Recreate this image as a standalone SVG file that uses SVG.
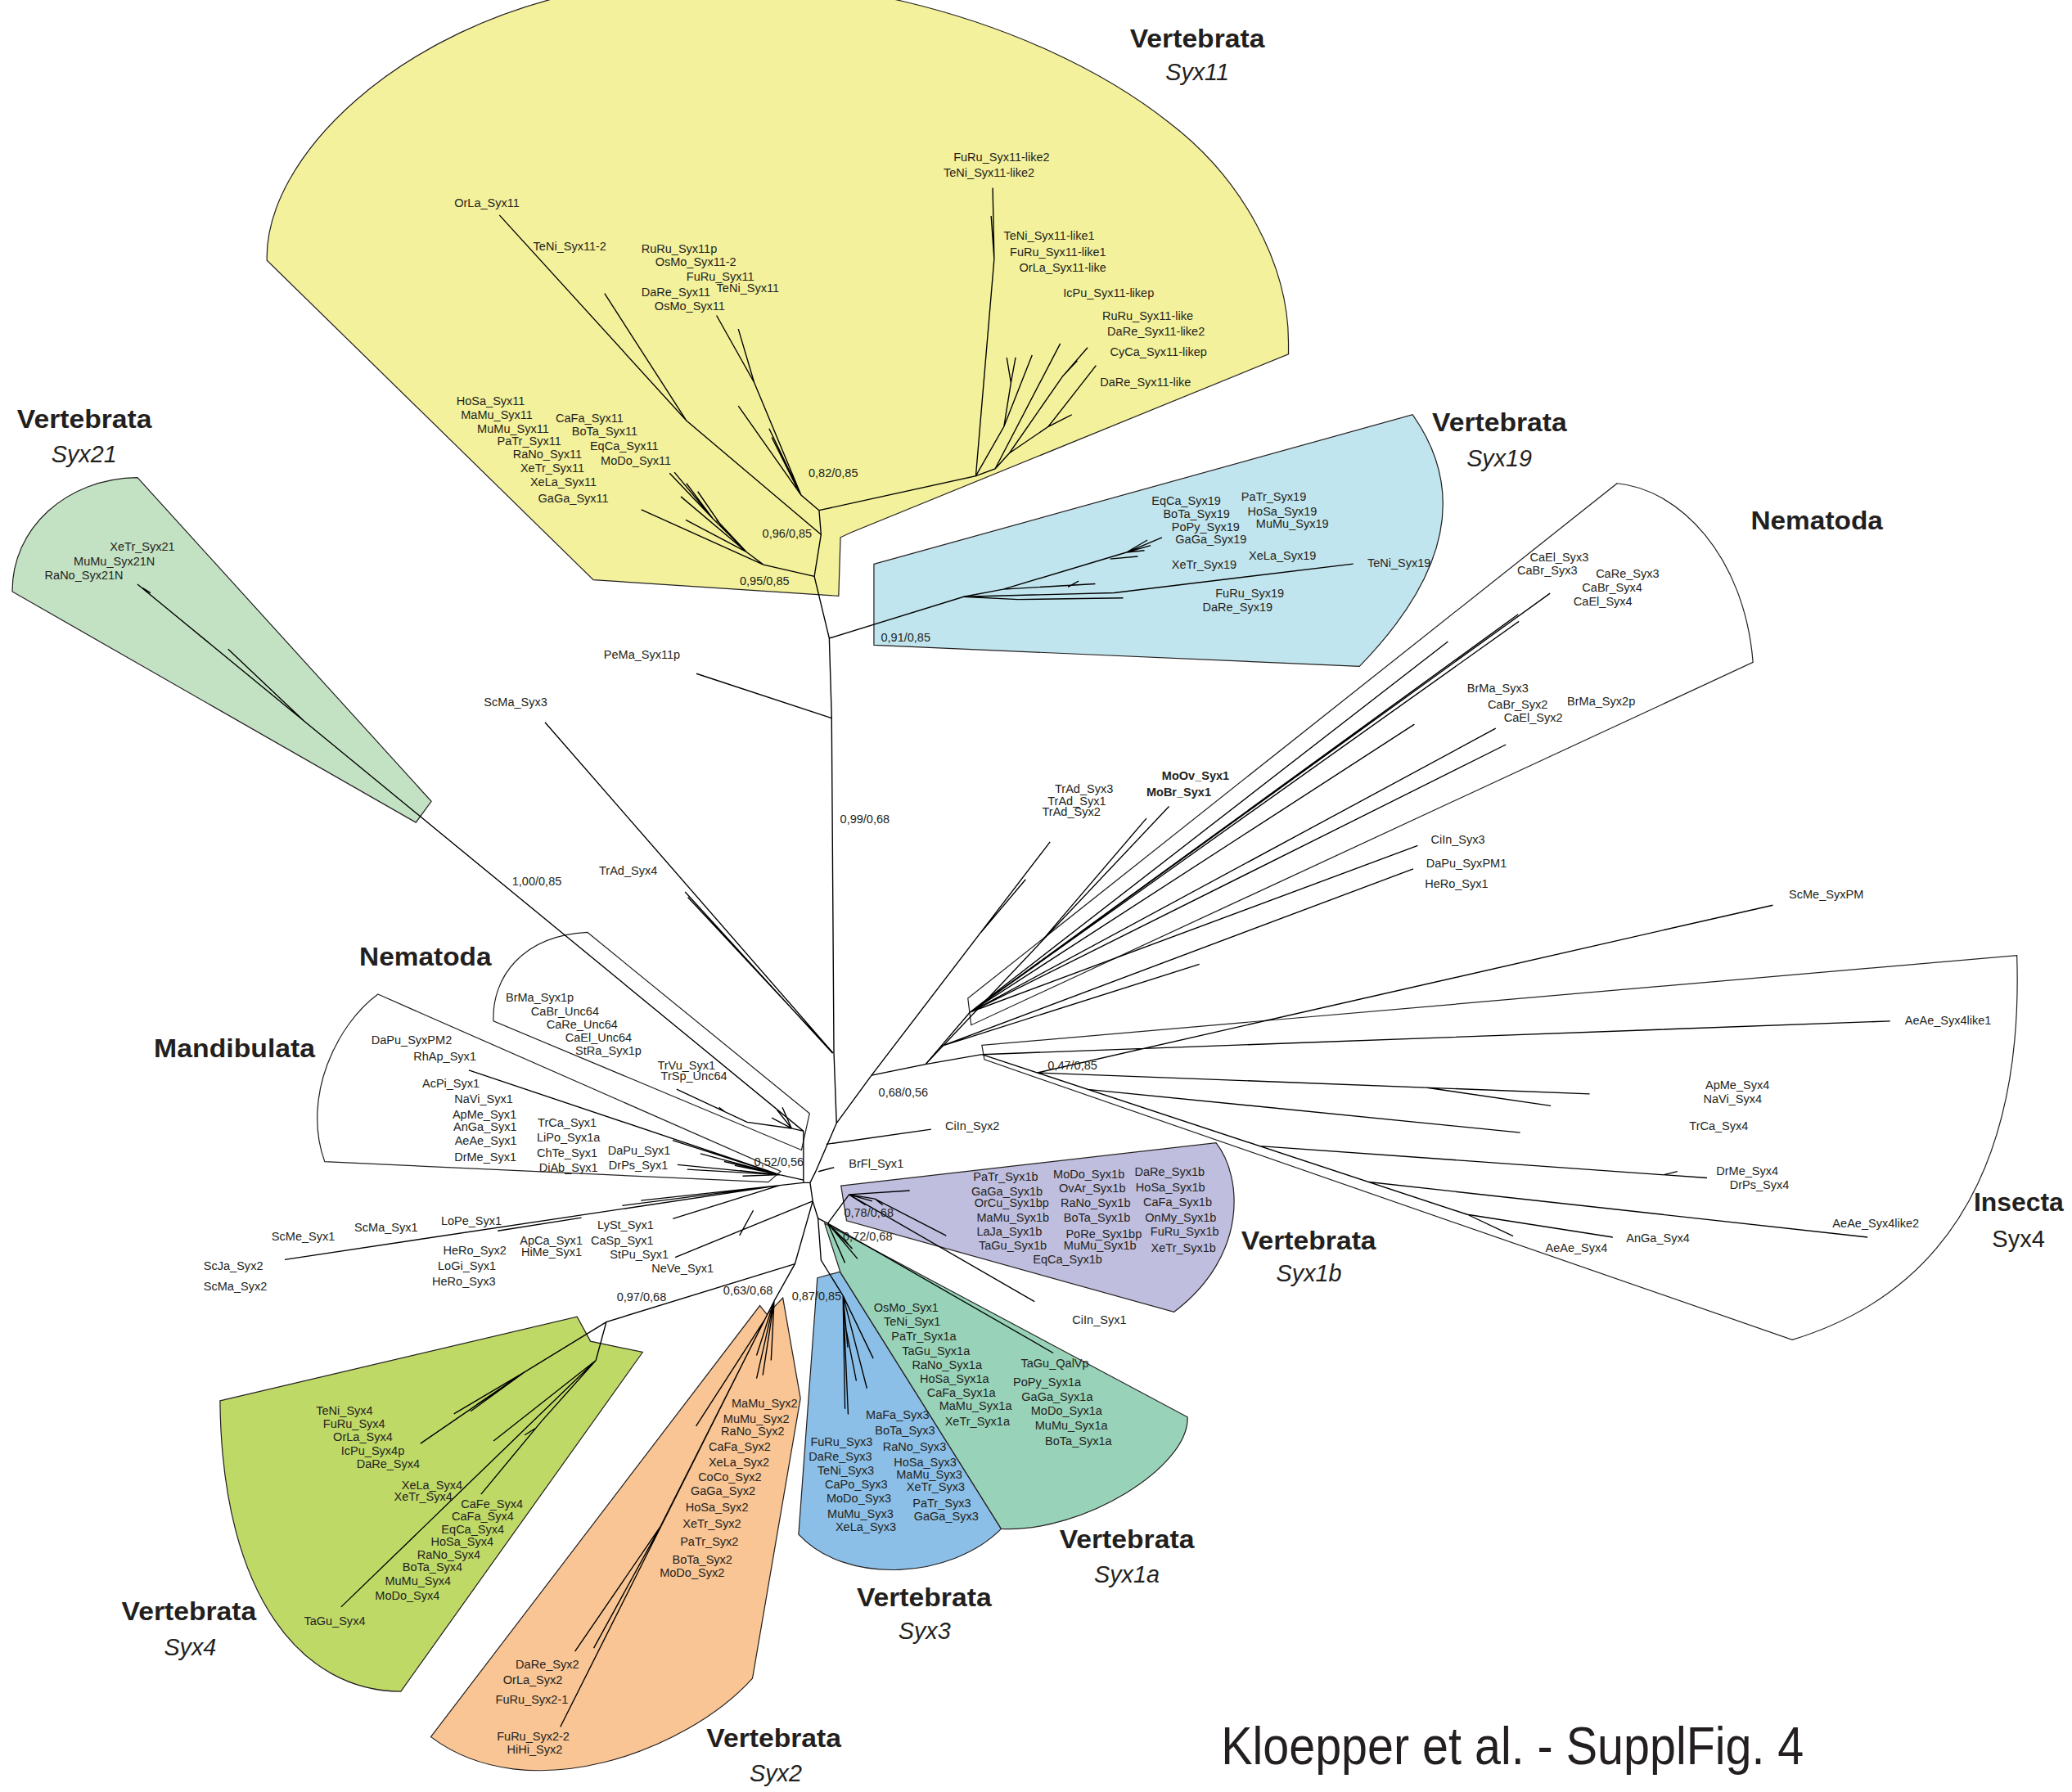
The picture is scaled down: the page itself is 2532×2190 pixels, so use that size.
<svg xmlns="http://www.w3.org/2000/svg" width="2532" height="2190" viewBox="0 0 2532 2190">
<style>
.lb{font-family:"Liberation Sans",Arial,sans-serif;font-size:9px;fill:#231f20}
.bd{font-weight:bold}
.tt{font-family:"Liberation Sans",Arial,sans-serif;font-size:19px;font-weight:bold;fill:#231f20;text-anchor:middle}
.it{font-family:"Liberation Sans",Arial,sans-serif;font-size:17.8px;font-style:italic;fill:#231f20;text-anchor:middle}
.rg{stroke:#231f20;stroke-width:0.75;stroke-linejoin:miter}
.br path{fill:none;stroke:#000;stroke-width:0.85}
</style>
<rect width="2532" height="2190" fill="#fff"/>
<g transform="scale(1.6149)">

<!-- clade areas -->
<g id="clade-syx11">
<path class="rg" fill="#f3f19b" d="M202,197 C200,120 300,20 450,-8 C600,-35 780,10 885,93 C940,135 975,200 975,259 L975,268 L644,403 L636,406.7 L634.6,451 L449,438.8 Z"/>
<text class="tt" x="906" y="36" textLength="102" lengthAdjust="spacingAndGlyphs">Vertebrata</text>
<text class="it" x="906" y="61">Syx11</text>
</g>
<g id="clade-syx19">
<path class="rg" fill="#c1e5ee" d="M661.3,426.9 L1068.9,313.8 Q1130,400.2 1028.7,504.3 L661.3,488.2 Z"/>
<text class="tt" x="1134.7" y="326.6" textLength="102" lengthAdjust="spacingAndGlyphs">Vertebrata</text>
<text class="it" x="1134.5" y="353">Syx19</text>
</g>
<g id="clade-syx21">
<path class="rg" fill="#c3e2c3" d="M9.3,447.7 C9,400 50,362 104,361.4 L326.4,606.4 L314.7,622.4 Z"/>
<text class="tt" x="63.9" y="323.8" textLength="102" lengthAdjust="spacingAndGlyphs">Vertebrata</text>
<text class="it" x="63.6" y="349.9">Syx21</text>
</g>
<g id="clade-nematoda-right">
<path class="rg" fill="none" d="M732.4,755.5 L1223.7,365.8 C1270,370 1320,420 1326.5,501.2 L734.9,775.7 Z"/>
<text class="tt" x="1374.8" y="400.5" textLength="100" lengthAdjust="spacingAndGlyphs">Nematoda</text>
</g>
<g id="clade-insecta">
<path class="rg" fill="none" d="M743,791 L1526.2,723 C1530,840 1500,970 1356.2,1013.9 L744.9,801.8 Z"/>
<text class="tt" x="1527.6" y="916.6" textLength="68" lengthAdjust="spacingAndGlyphs">Insecta</text>
<text class="tt" style="font-weight:normal;font-size:18px" x="1527.4" y="943.6">Syx4</text>
</g>
<g id="clade-nematoda-left">
<path class="rg" fill="none" d="M444.4,705.5 L612.6,842.6 L606.5,870.3 L373.4,772.7 C372,740 395,708 444.4,705.5 Z"/>
<text class="tt" x="321.9" y="731" textLength="100" lengthAdjust="spacingAndGlyphs">Nematoda</text>
</g>
<g id="clade-mandibulata">
<path class="rg" fill="none" d="M286,752.4 L590.8,886.4 L581.4,894.6 L245.7,879.1 C228,830 255,775 286,752.4 Z"/>
<text class="tt" x="177.5" y="800.2" textLength="122" lengthAdjust="spacingAndGlyphs">Mandibulata</text>
</g>
<g id="clade-syx1b">
<path class="rg" fill="#bfbedf" d="M636.4,897.3 L920.2,864.9 C940,890 945,950 888.3,992.9 L640.6,923.8 Z"/>
<text class="tt" x="990.3" y="945.8" textLength="102" lengthAdjust="spacingAndGlyphs">Vertebrata</text>
<text class="it" x="990.5" y="970">Syx1b</text>
</g>
<g id="clade-syx3">
<path class="rg" fill="#8bbfe7" d="M618.5,967.1 L635.6,962.4 L757.6,1157 C720,1195 640,1200 604.3,1161.1 Z"/>
<text class="tt" x="699.3" y="1215.4" textLength="102" lengthAdjust="spacingAndGlyphs">Vertebrata</text>
<text class="it" x="699.6" y="1240.6">Syx3</text>
</g>
<g id="clade-syx1a">
<path class="rg" fill="#98d3b9" d="M624,925.8 L898.6,1072.4 C900,1110 820,1160 757.6,1157 L636,963 Z"/>
<text class="tt" x="852.7" y="1171.9" textLength="102" lengthAdjust="spacingAndGlyphs">Vertebrata</text>
<text class="it" x="852.7" y="1197.3">Syx1a</text>
</g>
<g id="clade-syx2">
<path class="rg" fill="#f9c594" d="M575,988 L580.4,994.7 L592.4,982.2 L605.7,1058.2 L569.4,1270.1 C520,1325 400,1370 326,1314.4 Z"/>
<text class="tt" x="585.6" y="1322.3" textLength="102" lengthAdjust="spacingAndGlyphs">Vertebrata</text>
<text class="it" x="587" y="1348">Syx2</text>
</g>
<g id="clade-syx4">
<path class="rg" fill="#bfd967" d="M166.5,1060.1 L436.7,996.4 L446.8,1015 L486.3,1023.3 L303.3,1280 C230,1280 168,1210 166.5,1060.1 Z"/>
<text class="tt" x="143" y="1226" textLength="102" lengthAdjust="spacingAndGlyphs">Vertebrata</text>
<text class="it" x="143.9" y="1252.6">Syx4</text>
</g>

<!-- branches -->
<g id="connectors" class="br">
<!-- trunk -->
<path d="M627.5,483 L616.2,436.2 L621.3,404.5 L619.8,386.2"/>
<path d="M627.5,483 L629.3,542.3 L631,796 L633,850 L617,887 L613,895 L615,909 L619,922 L621.3,953.7 L637.9,980.5"/>
<!-- Syx11 vertebrate -->
<path d="M616.2,436.2 L577.7,427.3 L565,417.8 L539.4,392.4 L506.7,358.1 M539.4,392.4 L510.3,357.4 M539.4,392.4 L519.4,365.8 M565,417.8 L515.2,375.8 M565,417.8 L518.9,393.5 M565,417.8 L542.2,393.5 M577.7,427.3 L485.3,385.7 M548,401 L528,372"/>
<path d="M621.3,404.5 L519.4,318.3 L377.9,162.8 M519.4,318.3 L457.5,222.1"/>
<path d="M619.8,386.2 L606.2,374.7 L570.7,289.5 L542.2,238.7 M570.7,289.5 L558.7,249 M606.2,374.7 L558.7,307.2 M606.2,374.7 L582,324.3 M603,369 L584,331"/>
<!-- Syx11-like -->
<path d="M619.8,386.2 L644,380.9 L738.4,360.2 L752.3,196 L751.2,142.2 M752.3,196 L750,163.5"/>
<path d="M738.4,360.2 L759.7,322.8 L765,289.6 L761.8,270.6 M765,289.6 L768.5,270.6 M759.7,322.8 L781,268.8"/>
<path d="M738.4,360.2 L753,354.8 L802.3,260 M753,354.8 L763.8,342.9 L804,284.9 L823,263 M804,284.9 L815.2,273 M763.8,342.9 L793.3,322.8 L829.4,276.6 M793.3,322.8 L811.1,313.8"/>
<!-- Syx19 -->
<path d="M627.5,483 L729.3,451.6 L759.2,445.9 L828.8,441.8 M808.2,444.2 L816.2,439.7 M759.2,445.9 L852.4,418 L879.3,406.7 M852.4,418 L868.2,408.7 M852.4,418 L870.7,412.8 M852.4,418 L866,416.6 M840,423 L861,421.1"/>
<path d="M729.3,451.6 L770.3,453.7 L849.9,452.5 M729.3,451.6 L843,448.6 L1024,426.7"/>
<!-- single long branches -->
<path d="M629.3,543.5 L527,509.8"/>
<path d="M412.4,546.6 L630.5,797 M518.4,675 L630,797 M520.5,679 L625,791"/>
<!-- Syx21 -->
<path d="M608,856 L104,442.1 M230,545.6 L172.6,491.2 M113.9,448.7 L108,445"/>
<!-- left side -->
<path d="M608,856 L608,895 L613,895"/>
<path d="M608,856 L599,853.9 L588,840 M599,853.9 L592,838 M599,853.9 L584,846 M599,853.9 L565.3,849.2 L512,824.3 M548,841 L544,838"/>
<path d="M608,893 L590,889 L551.2,875.8 L354.8,809.9 M590,889 L509,863 M590,889 L530,873 M590,889 L548,879 M590,889 L556,882 M590,889 L560,886 M590,889 L512.6,881.4 M590,889 L520,885 M590,889 L562,890"/>
<path d="M608,895 L590,897 L215.5,953.2 M590,897 L470.9,912.3 M590,897 L485,908.5 M376.6,931.5 L440,921.5 M590,897 L509.2,922.3 M615,909 L510.9,951.5 M570,916 L559.6,935"/>
<!-- centre right -->
<path d="M625.2,865.9 L704.6,854.6 M619.3,886.6 L631.1,883.5"/>
<path d="M633,850 L659.5,813.7 L700.4,805.4 L734,766"/>
<path d="M659.5,813.7 L794.6,637.1 M742,706 L776.1,665.5"/>
<path d="M700.4,805.4 L884.6,610.3 M790,710 L867.5,619.3"/>
<path d="M734,766 L1172.9,449 M734,766 L1148.8,464.9 M734,766 L1149.4,470.2 M734,766 L1095.7,485.5 M734,766 L1070.3,548.1 M734,766 L1131.8,551.2 M734,766 L1139.5,563.5 M734,766 L1072.8,639.9"/>
<path d="M712,791.8 L1069.4,657.5 M712,791.8 L907.6,729.7"/>
<!-- Insecta -->
<path d="M700.4,805.4 L743,798 L1110.4,919.1 M743,798 L1430.3,772.7 M785,811.8 L1341.5,685 M785,811.8 L1202.9,827.8 M1079.8,823.1 L1173.5,836.8 M823,824.4 L1150.3,857.1 M953.4,867.3 L1291.7,891.4 M1259.2,889 L1269.3,886.5 M1035.7,894.5 L1413.2,936.3 M1110.4,919.1 L1220.4,936.3 M1110.4,919.1 L1145,935.5"/>
<!-- Syx1b / Syx1a -->
<path d="M619,922 L626.4,925.8 L642.5,904 L688.4,901 M642.5,904 L662,907.2 L716,935.1 M642.5,904 L782.8,985 M642.5,904 L655,912 M642.5,904 L660,909 M662,907.2 L668,912"/>
<path d="M626.4,925.8 L797,1023.9 M626.4,925.8 L648.9,952.6 M626.4,925.8 L639.4,955.7 M626.4,925.8 L641.8,941.3 M626.4,925.8 L645,945"/>
<!-- Syx3 -->
<path d="M637.9,980.5 L660.8,1028 M637.9,980.5 L656,1050.7 M637.9,980.5 L639.4,1066.2 M637.9,980.5 L641.8,1070.3 M637.9,980.5 L641.5,1019.7 M640,1005 L648,1045"/>
<!-- Syx2 -->
<path d="M615,909 L601.5,956.5 L585.8,984.6 L583.5,1029.5 M585.8,984.6 L572.5,1043.2 M585.8,984.6 L577.2,1040.7 M585.8,984.6 L572.5,1025.8 M585.8,984.6 L578.8,998.4 L526.7,1079.3 M578.8,998.4 L499.8,1155.1 L435.1,1249.7 M499.8,1155.1 L449.3,1247.2 M578.8,998.4 L424,1306.9"/>
<!-- Syx4 -->
<path d="M601.5,956.5 L458.8,1000.4 L450.9,1029.5 M458.8,1000.4 L397.1,1038.2 L343.5,1070 M397.1,1038.2 L356.1,1068 M397.1,1038.2 L360.8,1063 M397.1,1038.2 L318.2,1092.4 M450.9,1029.5 L373.5,1090.5 M450.9,1029.5 L258.1,1216.1 M450.9,1029.5 L409.8,1075.5 L364,1130.8 M405,1081 L397,1086"/>
</g>

<!-- leaf names -->
<g id="labels-syx11">
<text class="lb" x="343.8" y="156.8">OrLa_Syx11</text>
<text class="lb" x="403.5" y="189.3">TeNi_Syx11-2</text>
<text class="lb" x="485.3" y="191.5">RuRu_Syx11p</text>
<text class="lb" x="495.8" y="201">OsMo_Syx11-2</text>
<text class="lb" x="519.4" y="212.1">FuRu_Syx11</text>
<text class="lb" x="542.2" y="221">TeNi_Syx11</text>
<text class="lb" x="485.3" y="224.3">DaRe_Syx11</text>
<text class="lb" x="495.3" y="234.6">OsMo_Syx11</text>
<text class="lb" x="345.4" y="306.6">HoSa_Syx11</text>
<text class="lb" x="348.8" y="317.2">MaMu_Syx11</text>
<text class="lb" x="361.1" y="327.8">MuMu_Syx11</text>
<text class="lb" x="376.2" y="337">PaTr_Syx11</text>
<text class="lb" x="388.1" y="347">RaNo_Syx11</text>
<text class="lb" x="393.8" y="357">XeTr_Syx11</text>
<text class="lb" x="401.2" y="368">XeLa_Syx11</text>
<text class="lb" x="407.2" y="380.2">GaGa_Syx11</text>
<text class="lb" x="420.5" y="319.4">CaFa_Syx11</text>
<text class="lb" x="432.7" y="329.3">BoTa_Syx11</text>
<text class="lb" x="446.4" y="340.4">EqCa_Syx11</text>
<text class="lb" x="454.6" y="351.5">MoDo_Syx11</text>
<text class="lb" x="721.5" y="121.8">FuRu_Syx11-like2</text>
<text class="lb" x="714" y="133.6">TeNi_Syx11-like2</text>
<text class="lb" x="759.5" y="181.5">TeNi_Syx11-like1</text>
<text class="lb" x="764.2" y="193.6">FuRu_Syx11-like1</text>
<text class="lb" x="771.3" y="205.7">OrLa_Syx11-like</text>
<text class="lb" x="804.5" y="224.9">IcPu_Syx11-likep</text>
<text class="lb" x="834.1" y="242.2">RuRu_Syx11-like</text>
<text class="lb" x="837.9" y="254">DaRe_Syx11-like2</text>
<text class="lb" x="840" y="269.4">CyCa_Syx11-likep</text>
<text class="lb" x="832.4" y="292">DaRe_Syx11-like</text>
<text class="lb" x="611.8" y="361">0,82/0,85</text>
<text class="lb" x="576.9" y="406.7">0,96/0,85</text>
<text class="lb" x="559.8" y="442.5">0,95/0,85</text>
</g>
<g id="labels-syx19">
<text class="lb" x="871.4" y="382.3">EqCa_Syx19</text>
<text class="lb" x="880.2" y="391.8">BoTa_Syx19</text>
<text class="lb" x="886.6" y="402.1">PoPy_Syx19</text>
<text class="lb" x="889.4" y="411.2">GaGa_Syx19</text>
<text class="lb" x="939.3" y="379.2">PaTr_Syx19</text>
<text class="lb" x="944.1" y="390.1">HoSa_Syx19</text>
<text class="lb" x="950.4" y="399.4">MuMu_Syx19</text>
<text class="lb" x="945" y="423.6">XeLa_Syx19</text>
<text class="lb" x="886.6" y="430.4">XeTr_Syx19</text>
<text class="lb" x="1034.7" y="429">TeNi_Syx19</text>
<text class="lb" x="919.7" y="452.1">FuRu_Syx19</text>
<text class="lb" x="910" y="462.4">DaRe_Syx19</text>
<text class="lb" x="666.6" y="485.5">0,91/0,85</text>
</g>
<g id="labels-syx21">
<text class="lb" x="83.2" y="416.7">XeTr_Syx21</text>
<text class="lb" x="55.8" y="428.2">MuMu_Syx21N</text>
<text class="lb" x="33.8" y="438.4">RaNo_Syx21N</text>
<text class="lb" x="387.5" y="670.2">1,00/0,85</text>
</g>
<g id="labels-centre">
<text class="lb" x="456.9" y="498.5">PeMa_Syx11p</text>
<text class="lb" x="366.2" y="534.7">ScMa_Syx3</text>
<text class="lb" x="453.3" y="661.9">TrAd_Syx4</text>
<text class="lb" x="635.7" y="622.9">0,99/0,68</text>
<text class="lb" x="798.2" y="600.3">TrAd_Syx3</text>
<text class="lb" x="792.8" y="609.4">TrAd_Syx1</text>
<text class="lb" x="788.6" y="617.4">TrAd_Syx2</text>
<text class="lb bd" x="879.2" y="590.2">MoOv_Syx1</text>
<text class="lb bd" x="867.5" y="602.7">MoBr_Syx1</text>
<text class="lb" x="664.8" y="829.5">0,68/0,56</text>
<text class="lb" x="792.8" y="809.4">0,47/0,85</text>
<text class="lb" x="715.3" y="855.2">CiIn_Syx2</text>
<text class="lb" x="642.3" y="883.5">BrFl_Syx1</text>
<text class="lb" x="811.4" y="1002.2">CiIn_Syx1</text>
<text class="lb" x="570.7" y="882.5">0,52/0,56</text>
<text class="lb" x="466.7" y="984.6">0,97/0,68</text>
<text class="lb" x="547.3" y="979.7">0,63/0,68</text>
<text class="lb" x="599.2" y="983.8">0,87/0,85</text>
<text class="lb" x="638.7" y="921.1">0,78/0,68</text>
<text class="lb" x="637.8" y="938.6">0,72/0,68</text>
</g>
<g id="labels-nematoda-right">
<text class="lb" x="1157.6" y="424.8">CaEl_Syx3</text>
<text class="lb" x="1148.1" y="434.9">CaBr_Syx3</text>
<text class="lb" x="1207.6" y="437.2">CaRe_Syx3</text>
<text class="lb" x="1197.2" y="447.5">CaBr_Syx4</text>
<text class="lb" x="1190.7" y="458.3">CaEl_Syx4</text>
<text class="lb" x="1110.2" y="523.9">BrMa_Syx3</text>
<text class="lb" x="1125.7" y="536.3">CaBr_Syx2</text>
<text class="lb" x="1138" y="546">CaEl_Syx2</text>
<text class="lb" x="1185.9" y="533.6">BrMa_Syx2p</text>
<text class="lb" x="1082.7" y="638.3">CiIn_Syx3</text>
<text class="lb" x="1079.2" y="656.4">DaPu_SyxPM1</text>
<text class="lb" x="1078.2" y="671.9">HeRo_Syx1</text>
<text class="lb" x="1353.7" y="680.1">ScMe_SyxPM</text>
</g>
<g id="labels-insecta">
<text class="lb" x="1441.4" y="775.1">AeAe_Syx4like1</text>
<text class="lb" x="1290.5" y="824.1">ApMe_Syx4</text>
<text class="lb" x="1288.9" y="834.6">NaVi_Syx4</text>
<text class="lb" x="1278.3" y="855.2">TrCa_Syx4</text>
<text class="lb" x="1298.7" y="889">DrMe_Syx4</text>
<text class="lb" x="1308.9" y="899.5">DrPs_Syx4</text>
<text class="lb" x="1386.7" y="928.9">AeAe_Syx4like2</text>
<text class="lb" x="1230.6" y="939.9">AnGa_Syx4</text>
<text class="lb" x="1169.4" y="947.2">AeAe_Syx4</text>
</g>
<g id="labels-left">
<text class="lb" x="382.7" y="757.9">BrMa_Syx1p</text>
<text class="lb" x="401.8" y="768.6">CaBr_Unc64</text>
<text class="lb" x="413.5" y="778.5">CaRe_Unc64</text>
<text class="lb" x="427.7" y="788">CaEl_Unc64</text>
<text class="lb" x="435.4" y="798.4">StRa_Syx1p</text>
<text class="lb" x="497.5" y="809.5">TrVu_Syx1</text>
<text class="lb" x="500.1" y="817.2">TrSp_Unc64</text>
<text class="lb" x="281" y="790">DaPu_SyxPM2</text>
<text class="lb" x="312.9" y="802.4">RhAp_Syx1</text>
<text class="lb" x="319.5" y="822.8">AcPi_Syx1</text>
<text class="lb" x="343.8" y="834.5">NaVi_Syx1</text>
<text class="lb" x="342.4" y="846.2">ApMe_Syx1</text>
<text class="lb" x="343.1" y="855.9">AnGa_Syx1</text>
<text class="lb" x="344.1" y="866.5">AeAe_Syx1</text>
<text class="lb" x="343.8" y="878.7">DrMe_Syx1</text>
<text class="lb" x="406.9" y="852.6">TrCa_Syx1</text>
<text class="lb" x="406.2" y="863.6">LiPo_Syx1a</text>
<text class="lb" x="406.2" y="875.8">ChTe_Syx1</text>
<text class="lb" x="407.9" y="886.9">DiAb_Syx1</text>
<text class="lb" x="459.9" y="873.6">DaPu_Syx1</text>
<text class="lb" x="460.6" y="885.1">DrPs_Syx1</text>
<text class="lb" x="205.5" y="938.9">ScMe_Syx1</text>
<text class="lb" x="268.2" y="932.2">ScMa_Syx1</text>
<text class="lb" x="333.7" y="927.1">LoPe_Syx1</text>
<text class="lb" x="154.1" y="961">ScJa_Syx2</text>
<text class="lb" x="154.1" y="976.5">ScMa_Syx2</text>
<text class="lb" x="335.3" y="949.3">HeRo_Syx2</text>
<text class="lb" x="331.3" y="961">LoGi_Syx1</text>
<text class="lb" x="327" y="972.7">HeRo_Syx3</text>
<text class="lb" x="393.4" y="941.8">ApCa_Syx1</text>
<text class="lb" x="394.4" y="950.6">HiMe_Syx1</text>
<text class="lb" x="452.1" y="930">LySt_Syx1</text>
<text class="lb" x="447.1" y="941.8">CaSp_Syx1</text>
<text class="lb" x="461.5" y="952.4">StPu_Syx1</text>
<text class="lb" x="493.1" y="963.2">NeVe_Syx1</text>
</g>
<g id="labels-syx1b">
<text class="lb" x="736.4" y="893.4">PaTr_Syx1b</text>
<text class="lb" x="735" y="904.5">GaGa_Syx1b</text>
<text class="lb" x="737.3" y="913.4">OrCu_Syx1bp</text>
<text class="lb" x="739" y="924.8">MaMu_Syx1b</text>
<text class="lb" x="739" y="935.1">LaJa_Syx1b</text>
<text class="lb" x="740.6" y="945.8">TaGu_Syx1b</text>
<text class="lb" x="781.6" y="956.2">EqCa_Syx1b</text>
<text class="lb" x="797" y="891.8">MoDo_Syx1b</text>
<text class="lb" x="801.3" y="902.5">OvAr_Syx1b</text>
<text class="lb" x="802.5" y="913.4">RaNo_Syx1b</text>
<text class="lb" x="804.9" y="924.8">BoTa_Syx1b</text>
<text class="lb" x="806.5" y="936.8">PoRe_Syx1bp</text>
<text class="lb" x="804.9" y="945.8">MuMu_Syx1b</text>
<text class="lb" x="858.6" y="889.7">DaRe_Syx1b</text>
<text class="lb" x="859.4" y="901.7">HoSa_Syx1b</text>
<text class="lb" x="865.1" y="912.8">CaFa_Syx1b</text>
<text class="lb" x="866.5" y="924.8">OnMy_Syx1b</text>
<text class="lb" x="870.5" y="935.1">FuRu_Syx1b</text>
<text class="lb" x="871" y="947.5">XeTr_Syx1b</text>
</g>
<g id="labels-syx1a">
<text class="lb" x="661.2" y="992.9">OsMo_Syx1</text>
<text class="lb" x="668.8" y="1003.2">TeNi_Syx1</text>
<text class="lb" x="674.5" y="1014.2">PaTr_Syx1a</text>
<text class="lb" x="682.5" y="1025.3">TaGu_Syx1a</text>
<text class="lb" x="690.1" y="1035.8">RaNo_Syx1a</text>
<text class="lb" x="696" y="1046.6">HoSa_Syx1a</text>
<text class="lb" x="701.4" y="1056.9">CaFa_Syx1a</text>
<text class="lb" x="710.7" y="1066.8">MaMu_Syx1a</text>
<text class="lb" x="715" y="1078.6">XeTr_Syx1a</text>
<text class="lb" x="772.5" y="1034.6">TaGu_QalVp</text>
<text class="lb" x="766.6" y="1049.1">PoPy_Syx1a</text>
<text class="lb" x="773" y="1060">GaGa_Syx1a</text>
<text class="lb" x="780.1" y="1070.7">MoDo_Syx1a</text>
<text class="lb" x="783.2" y="1081.7">MuMu_Syx1a</text>
<text class="lb" x="790.8" y="1093.6">BoTa_Syx1a</text>
</g>
<g id="labels-syx3">
<text class="lb" x="655.2" y="1073.8">MaFa_Syx3</text>
<text class="lb" x="662.1" y="1085.8">BoTa_Syx3</text>
<text class="lb" x="613.3" y="1094.1">FuRu_Syx3</text>
<text class="lb" x="611.9" y="1105.4">DaRe_Syx3</text>
<text class="lb" x="618.5" y="1115.7">TeNi_Syx3</text>
<text class="lb" x="624.2" y="1126.7">CaPo_Syx3</text>
<text class="lb" x="625.4" y="1137">MoDo_Syx3</text>
<text class="lb" x="626.1" y="1148.8">MuMu_Syx3</text>
<text class="lb" x="632.2" y="1158.5">XeLa_Syx3</text>
<text class="lb" x="668" y="1098.2">RaNo_Syx3</text>
<text class="lb" x="676.3" y="1109.5">HoSa_Syx3</text>
<text class="lb" x="678.2" y="1119.2">MaMu_Syx3</text>
<text class="lb" x="686" y="1128.5">XeTr_Syx3</text>
<text class="lb" x="690.6" y="1140.5">PaTr_Syx3</text>
<text class="lb" x="691.5" y="1150.8">GaGa_Syx3</text>
</g>
<g id="labels-syx2">
<text class="lb" x="553.6" y="1065.1">MaMu_Syx2</text>
<text class="lb" x="547.3" y="1076.8">MuMu_Syx2</text>
<text class="lb" x="545.6" y="1086">RaNo_Syx2</text>
<text class="lb" x="536.2" y="1097.9">CaFa_Syx2</text>
<text class="lb" x="536.2" y="1109.6">XeLa_Syx2</text>
<text class="lb" x="528.3" y="1120.8">CoCo_Syx2</text>
<text class="lb" x="522.6" y="1131.5">GaGa_Syx2</text>
<text class="lb" x="518.8" y="1144">HoSa_Syx2</text>
<text class="lb" x="516.6" y="1156.4">XeTr_Syx2</text>
<text class="lb" x="514.7" y="1169.6">PaTr_Syx2</text>
<text class="lb" x="508.7" y="1183.2">BoTa_Syx2</text>
<text class="lb" x="499.2" y="1193.2">MoDo_Syx2</text>
<text class="lb" x="390.2" y="1262.6">DaRe_Syx2</text>
<text class="lb" x="380.7" y="1274.1">OrLa_Syx2</text>
<text class="lb" x="375" y="1289.5">FuRu_Syx2-1</text>
<text class="lb" x="376" y="1316.9">FuRu_Syx2-2</text>
<text class="lb" x="383.6" y="1326.8">HiHi_Syx2</text>
</g>
<g id="labels-syx4">
<text class="lb" x="239.2" y="1070.5">TeNi_Syx4</text>
<text class="lb" x="244.5" y="1080.5">FuRu_Syx4</text>
<text class="lb" x="252.1" y="1090.5">OrLa_Syx4</text>
<text class="lb" x="258.1" y="1100.9">IcPu_Syx4p</text>
<text class="lb" x="269.8" y="1110.9">DaRe_Syx4</text>
<text class="lb" x="303.9" y="1127.3">XeLa_Syx4</text>
<text class="lb" x="298.2" y="1135.8">XeTr_Syx4</text>
<text class="lb" x="348.8" y="1141.4">CaFe_Syx4</text>
<text class="lb" x="341.8" y="1150.6">CaFa_Syx4</text>
<text class="lb" x="334" y="1160.6">EqCa_Syx4</text>
<text class="lb" x="326" y="1169.6">HoSa_Syx4</text>
<text class="lb" x="315.6" y="1179.5">RaNo_Syx4</text>
<text class="lb" x="304.5" y="1188.7">BoTa_Syx4</text>
<text class="lb" x="291.3" y="1199.5">MuMu_Syx4</text>
<text class="lb" x="283.8" y="1210.4">MoDo_Syx4</text>
<text class="lb" x="230" y="1229.8">TaGu_Syx4</text>
</g>
<g id="caption">
<text x="924" y="1335" font-family="'Liberation Sans',Arial,sans-serif" font-size="40" fill="#231f20" textLength="441" lengthAdjust="spacingAndGlyphs">Kloepper et al. - SupplFig. 4</text>
</g>
</g>
</svg>
